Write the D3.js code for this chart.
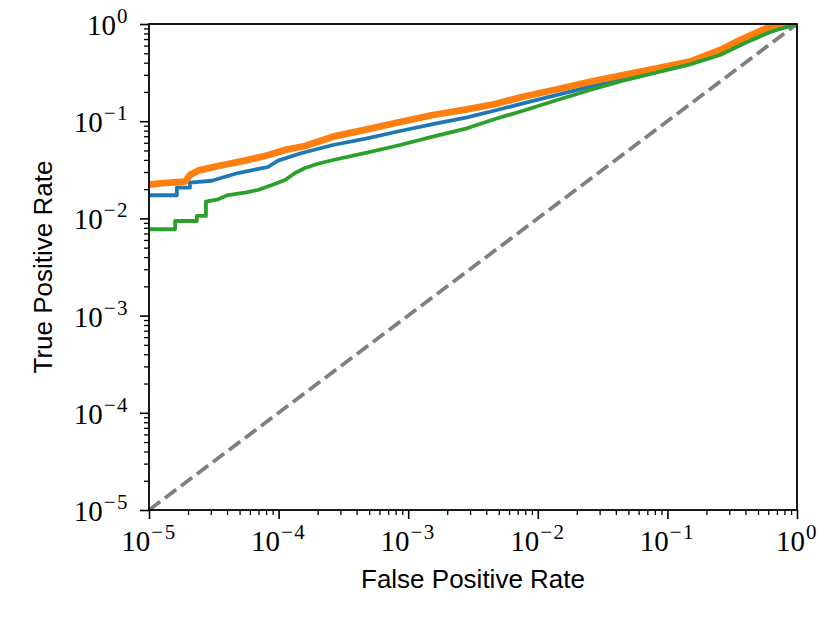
<!DOCTYPE html>
<html>
<head>
<meta charset="utf-8">
<script src="https://cdn.jsdelivr.net/npm/d3@7"></script>
<style>
  body { margin: 0; background: #fff; }
  svg { display: block; }
</style>
</head>
<body>
<div id="chart"></div>
<script>
// ROC curves on log-log axes
const decades = [1e-5, 1e-4, 1e-3, 1e-2, 1e-1, 1e0];
const exponents = [-5, -4, -3, -2, -1, 0];

// [fpr, tpr] pairs
const blueRoc = [
    [1.0e-5, 0.0173], [1.64e-5, 0.0173], [1.64e-5, 0.0207], [2.07e-5, 0.0207],
    [2.07e-5, 0.0233], [3.05e-5, 0.0244], [4.86e-5, 0.0293], [8.28e-5, 0.0338],
    [9.9e-5, 0.0393], [1.51e-4, 0.0471], [2.63e-4, 0.0569], [4.81e-4, 0.0667],
    [8.65e-4, 0.0793], [1.55e-3, 0.0935], [2.84e-3, 0.1096], [4.68e-3, 0.1288],
    [7.69e-3, 0.1528], [1.41e-2, 0.1862], [2.53e-2, 0.2265], [4.54e-2, 0.2716],
    [8.32e-2, 0.3228], [0.149, 0.3873], [0.255, 0.5035], [0.434, 0.684],
    [0.740, 0.910], [1, 1]
];

const orangeRoc = [
    [1.0e-5, 0.0223], [1.28e-5, 0.0231], [1.90e-5, 0.0239], [2.07e-5, 0.0280],
    [2.39e-5, 0.0310], [3.41e-5, 0.0346], [5.50e-5, 0.0393], [7.85e-5, 0.0438],
    [1.12e-4, 0.0506], [1.60e-4, 0.0556], [2.63e-4, 0.0693], [4.81e-4, 0.0825],
    [8.65e-4, 0.0981], [1.55e-3, 0.1158], [2.84e-3, 0.1325], [4.68e-3, 0.1503],
    [7.69e-3, 0.1786], [1.41e-2, 0.2129], [2.53e-2, 0.2548], [4.54e-2, 0.2987],
    [8.32e-2, 0.3501], [0.149, 0.4094], [0.255, 0.540], [0.363, 0.684],
    [0.518, 0.847], [0.701, 1], [1, 1]
];

const greenRoc = [
    [1.0e-5, 0.00773], [1.59e-5, 0.00773], [1.59e-5, 0.0094], [2.34e-5, 0.0094],
    [2.34e-5, 0.0106], [2.75e-5, 0.0106], [2.75e-5, 0.0149], [3.41e-5, 0.0157],
    [4.07e-5, 0.0174], [5.50e-5, 0.0184], [6.93e-5, 0.0196], [8.89e-5, 0.0221],
    [1.12e-4, 0.0248], [1.34e-4, 0.0293], [1.60e-4, 0.0330], [1.98e-4, 0.0363],
    [2.63e-4, 0.0399], [4.81e-4, 0.0474], [8.65e-4, 0.0569], [1.55e-3, 0.0693],
    [2.84e-3, 0.0845], [4.68e-3, 0.1053], [7.69e-3, 0.1282], [1.41e-2, 0.1652],
    [2.53e-2, 0.2095], [4.54e-2, 0.2611], [8.32e-2, 0.3185], [0.149, 0.3848],
    [0.255, 0.480], [0.397, 0.637], [0.620, 0.828], [1, 1]
];

const chanceLine = [[1e-5, 1e-5], [1, 1]];

const width = 830;
const height = 623;
const margin = { top: 24, right: 33, bottom: 113, left: 149 };

const svg = d3.select('#chart').append('svg')
    .attr('width', width)
    .attr('height', height);

const x = d3.scaleLog()
    .domain([1e-5, 1])
    .range([margin.left, width - margin.right]);

const y = d3.scaleLog()
    .domain([1e-5, 1])
    .range([height - margin.bottom, margin.top]);

// minor ticks 2..9 in every decade
const minors = [];
decades.slice(0, -1).forEach(d => {
    for (let k = 2; k <= 9; k++) minors.push(d * k);
});

svg.append('defs').append('clipPath')
    .attr('id', 'plot-clip')
    .append('rect')
    .attr('x', x.range()[0])
    .attr('y', y.range()[1])
    .attr('width', x.range()[1] - x.range()[0])
    .attr('height', y.range()[0] - y.range()[1]);

const plot = svg.append('g').attr('clip-path', 'url(#plot-clip)');

const line = d3.line()
    .x(d => x(d[0]))
    .y(d => y(d[1]));

plot.append('path')
    .attr('d', line(chanceLine))
    .attr('fill', 'none')
    .attr('stroke', '#7f7f7f')
    .attr('stroke-width', 3.8)
    .attr('stroke-dasharray', '14,6');

const series = [
    { data: blueRoc, color: '#1f77b4', w: 3.8 },
    { data: orangeRoc, color: '#ff7f0e', w: 6.8 },
    { data: greenRoc, color: '#2ca02c', w: 3.8 }
];

series.forEach(s => {
    plot.append('path')
        .attr('d', line(s.data))
        .attr('fill', 'none')
        .attr('stroke', s.color)
        .attr('stroke-width', s.w)
        .attr('stroke-linejoin', 'round');
});

// axes: major ticks with labels, minor ticks without
const xMajor = svg.append('g')
    .attr('transform', `translate(0,${y.range()[0]})`)
    .call(d3.axisBottom(x).tickValues(decades).tickSize(9).tickSizeOuter(0).tickFormat(''));
const xMinor = svg.append('g')
    .attr('transform', `translate(0,${y.range()[0]})`)
    .call(d3.axisBottom(x).tickValues(minors).tickSize(5).tickSizeOuter(0).tickFormat(''));
const yMajor = svg.append('g')
    .attr('transform', `translate(${x.range()[0]},0)`)
    .call(d3.axisLeft(y).tickValues(decades).tickSize(9).tickSizeOuter(0).tickFormat(''));
const yMinor = svg.append('g')
    .attr('transform', `translate(${x.range()[0]},0)`)
    .call(d3.axisLeft(y).tickValues(minors).tickSize(5).tickSizeOuter(0).tickFormat(''));

[xMajor, xMinor, yMajor, yMinor].forEach(g => {
    g.select('.domain').remove();
    g.selectAll('line').attr('stroke', '#000').attr('stroke-width', 1.6);
});
xMinor.selectAll('line').attr('stroke-width', 1.3);
yMinor.selectAll('line').attr('stroke-width', 1.3);

// frame
svg.append('rect')
    .attr('x', x.range()[0])
    .attr('y', y.range()[1])
    .attr('width', x.range()[1] - x.range()[0])
    .attr('height', y.range()[0] - y.range()[1])
    .attr('fill', 'none')
    .attr('stroke', '#000')
    .attr('stroke-width', 1.8);

// power-of-ten tick labels
function powerLabel(sel, e) {
    sel.append('tspan').text('10');
    sel.append('tspan')
        .attr('dx', 1)
        .attr('dy', -12)
        .attr('font-size', 21)
        .attr('letter-spacing', 1.5)
        .text(e < 0 ? '\u2212' + Math.abs(e) : String(e));
}

const tickFont = '"Liberation Serif", "Times New Roman", serif';

decades.forEach((d, i) => {
    const t = svg.append('text')
        .attr('x', x(d))
        .attr('y', y.range()[0] + 41)
        .attr('text-anchor', 'middle')
        .attr('font-family', tickFont)
        .attr('font-size', 29)
        .attr('fill', '#000');
    powerLabel(t, exponents[i]);

    const u = svg.append('text')
        .attr('x', x.range()[0] - 20)
        .attr('y', y(d) + 11)
        .attr('text-anchor', 'end')
        .attr('font-family', tickFont)
        .attr('font-size', 29)
        .attr('fill', '#000');
    powerLabel(u, exponents[i]);
});

const labelFont = '"Liberation Sans", Arial, sans-serif';

svg.append('text')
    .attr('x', (x.range()[0] + x.range()[1]) / 2)
    .attr('y', 588)
    .attr('text-anchor', 'middle')
    .attr('font-family', labelFont)
    .attr('font-size', 26)
    .attr('fill', '#000')
    .text('False Positive Rate');

svg.append('text')
    .attr('transform', `translate(52,${(y.range()[0] + y.range()[1]) / 2}) rotate(-90)`)
    .attr('text-anchor', 'middle')
    .attr('font-family', labelFont)
    .attr('font-size', 26)
    .attr('fill', '#000')
    .text('True Positive Rate');
</script>
</body>
</html>
